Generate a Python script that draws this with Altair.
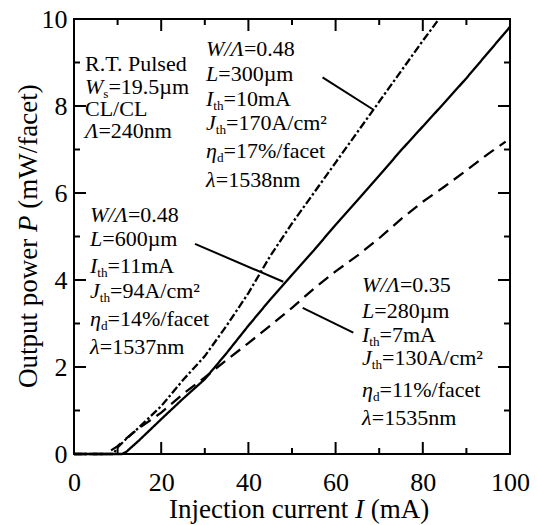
import altair as alt
import pandas as pd

# ---------------------------------------------------------------------------
# Light-current characteristics: injection current I (mA) -> P (mW/facet)
# ---------------------------------------------------------------------------
i_300 = [0, 5, 9, 10, 12, 15, 20, 25, 30, 35, 40, 45, 50, 55, 60, 65, 70, 75, 80, 83.7]
p_300 = [0, 0, 0, 0.15, 0.35, 0.62, 1.1, 1.7, 2.25, 2.95, 3.7, 4.55, 5.3, 6.0, 6.7, 7.4, 8.1, 8.8, 9.5, 10.0]

i_600 = [0, 5, 11, 12, 15, 20, 25, 30, 35, 40, 45, 50, 55, 60, 65, 70, 75, 80, 85, 90, 95, 100]
p_600 = [0, 0, 0, 0.05, 0.32, 0.8, 1.27, 1.72, 2.32, 2.95, 3.55, 4.12, 4.68, 5.27, 5.83, 6.4, 6.98, 7.53, 8.08, 8.64, 9.23, 9.82]

i_280 = [0, 5, 7, 8, 10, 12, 15, 20, 25, 30, 35, 40, 45, 50, 55, 60, 65, 70, 75, 80, 85, 90, 95, 99]
p_280 = [0, 0, 0, 0.05, 0.18, 0.36, 0.6, 0.95, 1.38, 1.76, 2.16, 2.55, 2.95, 3.36, 3.8, 4.2, 4.56, 4.96, 5.4, 5.8, 6.15, 6.52, 6.9, 7.18]

devices = ["L=300um", "L=600um", "L=280um"]

# leader lines from each parameter block to its curve (mA, mW)
lead_i1 = [57.0, 27.75, 52.45]
lead_p1 = [8.66, 4.83, 3.36]
lead_i2 = [68.6, 48.0, 64.06]
lead_p2 = [7.92, 3.96, 2.79]

x_labels = [0, 20, 40, 60, 80, 100]
y_labels = [0, 2, 4, 6, 8, 10]
x_major = [20, 40, 60, 80]
x_minor = [10, 30, 50, 70, 90]
y_major = [2, 4, 6, 8]
y_minor = [1, 3, 5, 7, 9]

# parameter blocks: each line is a list of (text, kind) runs
block_common = [
    [("R.T. Pulsed", "r")],
    [("W", "i"), ("s", "sub"), ("=19.5µm", "r")],
    [("CL/CL", "r")],
    [("Λ", "i"), ("=240nm", "r")],
]
block_300 = [
    [("W/Λ", "i"), ("=0.48", "r")],
    [("L", "i"), ("=300µm", "r")],
    [("I", "i"), ("th", "sub"), ("=10mA", "r")],
    [("J", "i"), ("th", "sub"), ("=170A/cm²", "r")],
    [("η", "i"), ("d", "sub"), ("=17%/facet", "r")],
    [("λ", "i"), ("=1538nm", "r")],
]
block_600 = [
    [("W/Λ", "i"), ("=0.48", "r")],
    [("L", "i"), ("=600µm", "r")],
    [("I", "i"), ("th", "sub"), ("=11mA", "r")],
    [("J", "i"), ("th", "sub"), ("=94A/cm²", "r")],
    [("η", "i"), ("d", "sub"), ("=14%/facet", "r")],
    [("λ", "i"), ("=1537nm", "r")],
]
block_280 = [
    [("W/Λ", "i"), ("=0.35", "r")],
    [("L", "i"), ("=280µm", "r")],
    [("I", "i"), ("th", "sub"), ("=7mA", "r")],
    [("J", "i"), ("th", "sub"), ("=130A/cm²", "r")],
    [("η", "i"), ("d", "sub"), ("=11%/facet", "r")],
    [("λ", "i"), ("=1535nm", "r")],
]
x_title = [("Injection current ", "r"), ("I", "i"), (" (mA)", "r")]
y_title = [("Output power ", "r"), ("P", "i"), (" (mW/facet)", "r")]

# ---------------------------------------------------------------------------
# Layout
# ---------------------------------------------------------------------------
FONT = "Liberation Serif, Times New Roman, serif"
PW, PH = 436, 435           # plot area in px
X_MAX, Y_MAX = 100, 10
ANN = 22                    # annotation font size
AX = 26                     # tick label size
TT = 27                     # axis title size

REG = {' ': 250, '.': 250, '/': 278, '=': 564, '%': 833, '(': 333, ')': 333,
       'A': 722, 'C': 667, 'I': 333, 'L': 611, 'O': 722, 'P': 556, 'R': 667,
       'T': 611, 'W': 944, 'a': 444, 'c': 444, 'd': 500, 'e': 444, 'f': 333,
       'h': 500, 'i': 278, 'j': 278, 'l': 278, 'm': 778, 'n': 500, 'o': 500,
       'p': 500, 'r': 333, 's': 389, 't': 278, 'u': 500, 'w': 722, 'µ': 500,
       '²': 300}
ITA = {'W': 833, '/': 278, 'Λ': 611, 'L': 556, 'I': 333, 'J': 444, 'P': 611,
       'η': 500, 'λ': 444}


def text_width(txt, size, italic):
    table = ITA if italic else REG
    return sum(table.get(ch, 500) for ch in txt) * size / 1000.0


def to_data(px, py):
    return px / PW * X_MAX, (PH - py) / PH * Y_MAX


def lay_line(runs, x0, y0, size, vertical=False):
    """Place runs one after another; spaces only advance the pen (SVG drops them)."""
    rows = []
    pos = 0.0
    for txt, kind in runs:
        italic = kind == "i"
        fs = size * 0.6 if kind == "sub" else size
        shift = size * 0.18 if kind == "sub" else 0.0
        lead = len(txt) - len(txt.lstrip(" "))
        pos += text_width(" " * lead, fs, italic)
        shown = txt.strip(" ")
        if vertical:
            px, py, ang = x0 + shift, y0 - pos, 270
        else:
            px, py, ang = x0 + pos, y0 + shift, 0
        xi, yp = to_data(px, py)
        rows.append({"I": xi, "P": yp, "text": shown, "size": fs, "angle": ang,
                     "style": "italic" if italic else "normal"})
        pos += text_width(txt.lstrip(" "), fs, italic)
    return rows


def lay_block(block, x0, baselines, size):
    rows = []
    for runs, yb in zip(block, baselines):
        rows += lay_line(runs, x0, yb, size)
    return rows


text_rows = []
text_rows += lay_block(block_common, 11, [52, 75, 97, 119], ANN)
text_rows += lay_block(block_300, 132, [37, 62, 87, 111, 139, 168], ANN)
text_rows += lay_block(block_600, 16, [203, 227, 254, 279, 307, 335], ANN)
text_rows += lay_block(block_280, 288, [273, 299, 323, 346, 378, 406], ANN)
text_rows += lay_line(x_title, 95, 499, TT)
text_rows += lay_line(y_title, -37, 369, TT, vertical=True)
texts = pd.DataFrame(text_rows)

# curves in long form
curve_rows = []
for name, xs, ys in zip(devices, [i_300, i_600, i_280], [p_300, p_600, p_280]):
    for a, b in zip(xs, ys):
        curve_rows.append({"I": a, "P": b, "device": name})
curves = pd.DataFrame(curve_rows)

leaders = pd.DataFrame({"I": lead_i1, "P": lead_p1, "I2": lead_i2, "P2": lead_p2})

# inward ticks on all four sides
MAJ, MIN = 12, 6
tick_rows = []
for vals, ln in [(x_major, MAJ), (x_minor, MIN)]:
    dy = ln / PH * Y_MAX
    for v in vals:
        tick_rows.append({"I": v, "P": 0, "I2": v, "P2": dy})
        tick_rows.append({"I": v, "P": Y_MAX, "I2": v, "P2": Y_MAX - dy})
for vals, ln in [(y_major, MAJ), (y_minor, MIN)]:
    dx = ln / PW * X_MAX
    for v in vals:
        tick_rows.append({"I": 0, "P": v, "I2": dx, "P2": v})
        tick_rows.append({"I": X_MAX, "P": v, "I2": X_MAX - dx, "P2": v})
ticks = pd.DataFrame(tick_rows)

x_scale = alt.Scale(domain=[0, X_MAX], nice=False, zero=False)
y_scale = alt.Scale(domain=[0, Y_MAX], nice=False, zero=False)

x_axis = alt.Axis(values=x_labels, title=None, grid=False, ticks=False, tickSize=0,
                  domain=False, labelFont=FONT, labelFontSize=AX, labelColor="black",
                  labelPadding=36, labelBaseline="alphabetic", labelFlush=False,
                  labelOverlap=False)
y_axis = alt.Axis(values=y_labels, title=None, grid=False, ticks=False, tickSize=0,
                  domain=False, labelFont=FONT, labelFontSize=AX, labelColor="black",
                  labelPadding=7, labelFlush=False, labelOverlap=False)

X = alt.X("I:Q", scale=x_scale, axis=x_axis)
Y = alt.Y("P:Q", scale=y_scale, axis=y_axis)

lines = alt.Chart(curves).mark_line(color="black", strokeWidth=2.3).encode(
    x=X,
    y=Y,
    strokeDash=alt.StrokeDash(
        "device:N",
        scale=alt.Scale(domain=devices, range=[[8, 2.5, 2.5, 2.5], [1, 0], [12, 7]]),
        legend=None,
    ),
)

tick_layer = alt.Chart(ticks).mark_rule(color="black", strokeWidth=2).encode(
    x=X, y=Y, x2="I2:Q", y2="P2:Q",
)

leader_layer = alt.Chart(leaders).mark_rule(color="black", strokeWidth=2).encode(
    x=X, y=Y, x2="I2:Q", y2="P2:Q",
)


def text_layer(style):
    return alt.Chart(texts[texts["style"] == style]).mark_text(
        font=FONT, fontStyle=style, align="left", baseline="alphabetic", color="black"
    ).encode(
        x=X,
        y=Y,
        text="text:N",
        size=alt.Size("size:Q", scale=None),
        angle=alt.Angle("angle:Q", scale=None),
    )


chart = alt.layer(
    lines, tick_layer, leader_layer, text_layer("normal"), text_layer("italic")
).properties(
    width=PW,
    height=PH,
    padding={"left": 74, "top": 19, "right": 28, "bottom": 71},
    autosize=alt.AutoSizeParams(type="none"),
    background="white",
).configure_view(
    stroke="black", strokeWidth=2
).configure_axis(
    labelFont=FONT, labelFontSize=AX, labelColor="black"
).configure_text(font=FONT)

chart.save("out.html", embed_options={"renderer": "svg", "actions": False})
